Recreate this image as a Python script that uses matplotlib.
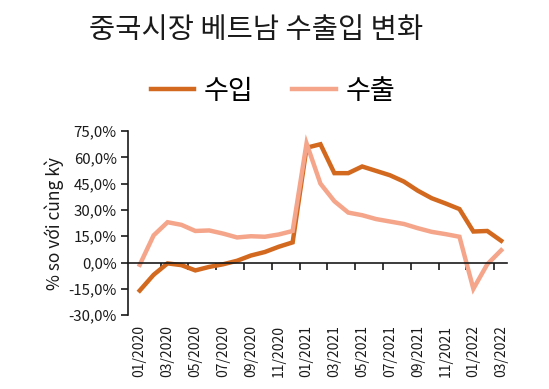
import matplotlib
matplotlib.use("Agg")
import matplotlib.pyplot as plt
from matplotlib.ticker import FuncFormatter, FixedLocator

plt.rcParams["font.family"] = ["Noto Sans CJK KR", "DejaVu Sans"]

INK = "#1a1a1a"
IMPORT_C = "#D2691E"
EXPORT_C = "#F4A58A"

months = ["01/2020", "02/2020", "03/2020", "04/2020", "05/2020", "06/2020",
          "07/2020", "08/2020", "09/2020", "10/2020", "11/2020", "12/2020",
          "01/2021", "02/2021", "03/2021", "04/2021", "05/2021", "06/2021",
          "07/2021", "08/2021", "09/2021", "10/2021", "11/2021", "12/2021",
          "01/2022", "02/2022", "03/2022"]
imports = [-16, -7, -0.5, -1.5, -4.5, -2.5, -1, 1, 4, 6, 9, 11.5,
           65.5, 67.5, 51, 51, 54.8, 52.3, 49.8, 46.2, 41, 36.7, 33.7, 30.5,
           17.7, 18, 12.4]
exports = [-1.3, 15.5, 23, 21.5, 18, 18.3, 16.5, 14.3, 15, 14.7, 16, 18,
           68, 45, 35, 28.5, 27, 24.8, 23.4, 22, 19.6, 17.5, 16.2, 14.7,
           -15, -1, 7]
yticks = [-30, -15, 0, 15, 30, 45, 60, 75]

fig = plt.figure(figsize=(5.49, 3.89), dpi=100)
ax = fig.add_axes([0.233, 0.19, 0.69, 0.473])

x = list(range(len(months)))
l1, = ax.plot(x, imports, color=IMPORT_C, lw=3.2, solid_joinstyle="miter", label="수입")
l2, = ax.plot(x, exports, color=EXPORT_C, lw=3.2, solid_joinstyle="miter", label="수출")

ax.set_ylim(-30, 75)
ax.set_xlim(-0.85, 26.4)
ax.set_yticks(yticks)
ax.yaxis.set_major_formatter(FuncFormatter(lambda v, p: f"{v:.1f}%".replace(".", ",")))
ax.tick_params(axis="y", direction="out", length=5, width=1.2, color=INK,
               labelsize=10.8, labelcolor=INK, pad=3)

for s in ("top", "right"):
    ax.spines[s].set_visible(False)
ax.spines["left"].set_linewidth(1.2)
ax.spines["left"].set_color(INK)
ax.spines["bottom"].set_position(("data", 0))
ax.spines["bottom"].set_linewidth(1.2)
ax.spines["bottom"].set_color(INK)

# tick marks between month pairs on the zero line
ax.xaxis.set_major_locator(FixedLocator([i + 0.5 for i in range(1, 26, 2)]))
ax.tick_params(axis="x", direction="out", length=5, width=1.2, color=INK,
               labelbottom=False)

# month labels below the plot area
sec = ax.secondary_xaxis("bottom")
sec.set_xticks(x[::2])
sec.set_xticklabels(months[::2], rotation=90, fontsize=10, color=INK)
sec.tick_params(length=0, pad=7)
sec.spines["bottom"].set_visible(False)

ax.set_ylabel("% so với cùng kỳ", fontsize=12.5, color=INK, labelpad=3)

fig.text(0.467, 0.922, "중국시장 베트남 수출입 변화", ha="center", va="center",
         fontsize=20.5, color=INK)
fig.legend(handles=[l1, l2], loc="center", bbox_to_anchor=(0.497, 0.765),
           ncol=2, frameon=False, fontsize=19.5, handlelength=1.6,
           columnspacing=1.45, handletextpad=0.35)

fig.savefig("out.png", dpi=100, facecolor="white")
